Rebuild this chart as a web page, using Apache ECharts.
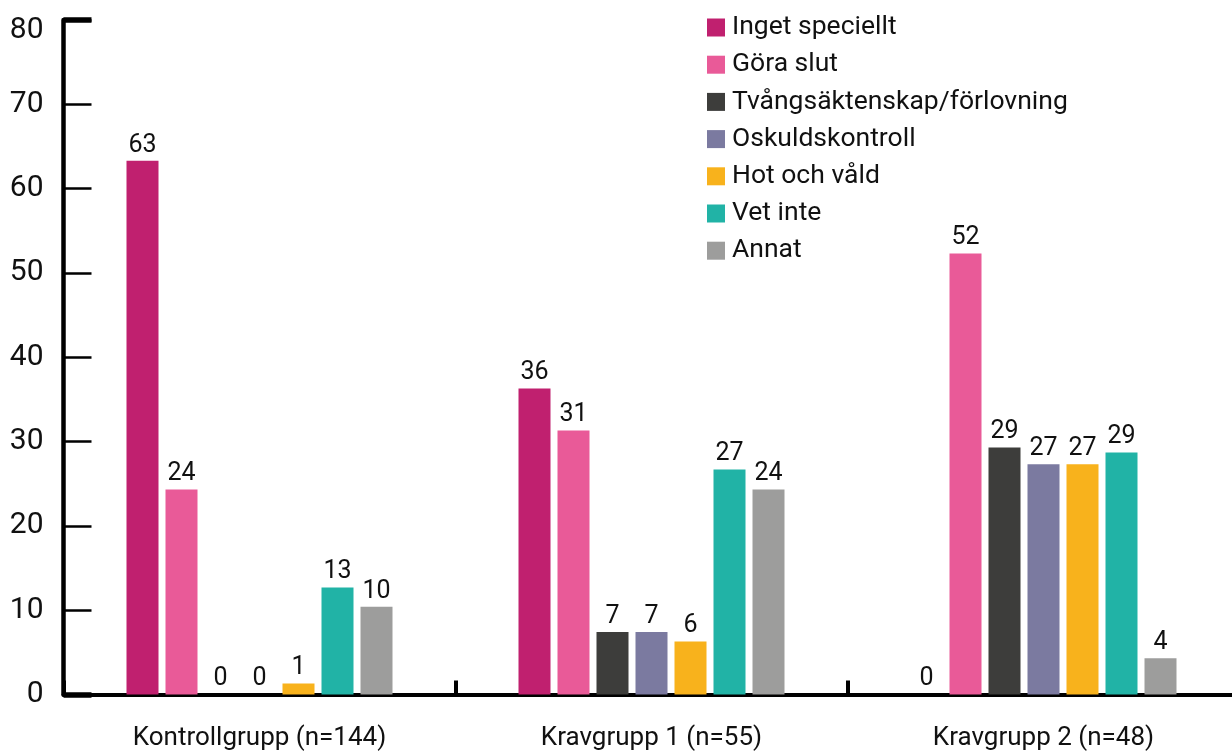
<!DOCTYPE html>
<html>
<head>
<meta charset="utf-8">
<script src="https://cdn.jsdelivr.net/npm/echarts@6/dist/echarts.min.js"></script>
<style>html,body{margin:0;padding:0;background:#fff;overflow:hidden}#c{width:1240px;height:753px}</style>
</head>
<body>
<div id="c"></div>
<script>
const categories = ['Kontrollgrupp (n=144)', 'Kravgrupp 1 (n=55)', 'Kravgrupp 2 (n=48)'];
const seriesNames = ['Inget speciellt', 'Göra slut', 'Tvångsäktenskap/förlovning', 'Oskuldskontroll', 'Hot och våld', 'Vet inte', 'Annat'];
const ingetSpeciellt = [63.3, 36.3, 0];
const goraSlut = [24.3, 31.3, 52.3];
const tvangsaktenskap = [0, 7.4, 29.3];
const oskuldskontroll = [0, 7.4, 27.3];
const hotOchVald = [1.3, 6.3, 27.3];
const vetInte = [12.7, 26.7, 28.7];
const annat = [10.4, 24.3, 4.3];
const yTicks = [0, 10, 20, 30, 40, 50, 60, 70, 80];

const values = [ingetSpeciellt, goraSlut, tvangsaktenskap, oskuldskontroll, hotOchVald, vetInte, annat];
const colors = ['#C0206F', '#E95A98', '#3D3D3B', '#7B7AA0', '#F8B21C', '#21B3A6', '#9D9D9C'];
const font = 'Roboto, "Noto Sans", sans-serif';
const yMax = yTicks[yTicks.length - 1];

const chart = echarts.init(document.getElementById('c'), null, {renderer: 'canvas'});
chart.setOption({
  animation: false,
  color: colors,
  grid: {left: 63.5, top: 20, width: 1176, height: 674.5, containLabel: false},
  legend: {
    orient: 'vertical', left: 702, top: 9,
    itemWidth: 18, itemHeight: 18, itemGap: 10.2,
    icon: 'rect',
    textStyle: {fontFamily: font, fontSize: 26.5, color: '#111', padding: [0, 0, 0, 2]},
    data: seriesNames
  },
  xAxis: {
    type: 'category', data: categories,
    axisLine: {lineStyle: {color: '#000', width: 4}},
    axisTick: {show: true, inside: true, length: 14, lineStyle: {color: '#000', width: 4}},
    axisLabel: {fontFamily: font, fontSize: 26, color: '#111', margin: 31}
  },
  yAxis: [{
    type: 'value', min: yTicks[0], max: yMax, interval: 10,
    axisLine: {show: true, lineStyle: {color: '#000', width: 4.5}},
    axisTick: {show: true, inside: true, length: 28, lineStyle: {color: '#000', width: 2.5}},
    axisLabel: {
      fontFamily: font, fontSize: 30, color: '#111', margin: 20,
      formatter: v => v === yMax ? '{top|' + v + '}' : String(v),
      rich: {top: {fontFamily: font, fontSize: 30, color: '#111', padding: [20, 0, 0, 0]}}
    },
    splitLine: {show: false}
  }, {
    type: 'value', position: 'left', min: 0, max: yMax, interval: yMax,
    axisLine: {show: false},
    axisTick: {show: true, inside: true, length: 28, lineStyle: {color: '#000', width: 5.5}},
    axisLabel: {show: false},
    splitLine: {show: false}
  }],
  series: seriesNames.map((name, i) => ({
    name: name, type: 'bar', data: values[i],
    barWidth: 32, barGap: '21.875%',
    itemStyle: {color: colors[i]},
    label: {
      show: true, position: 'top', distance: 3,
      fontFamily: font, fontSize: 25, color: '#111',
      formatter: p => Math.round(p.value)
    }
  }))
});
</script>
</body>
</html>
